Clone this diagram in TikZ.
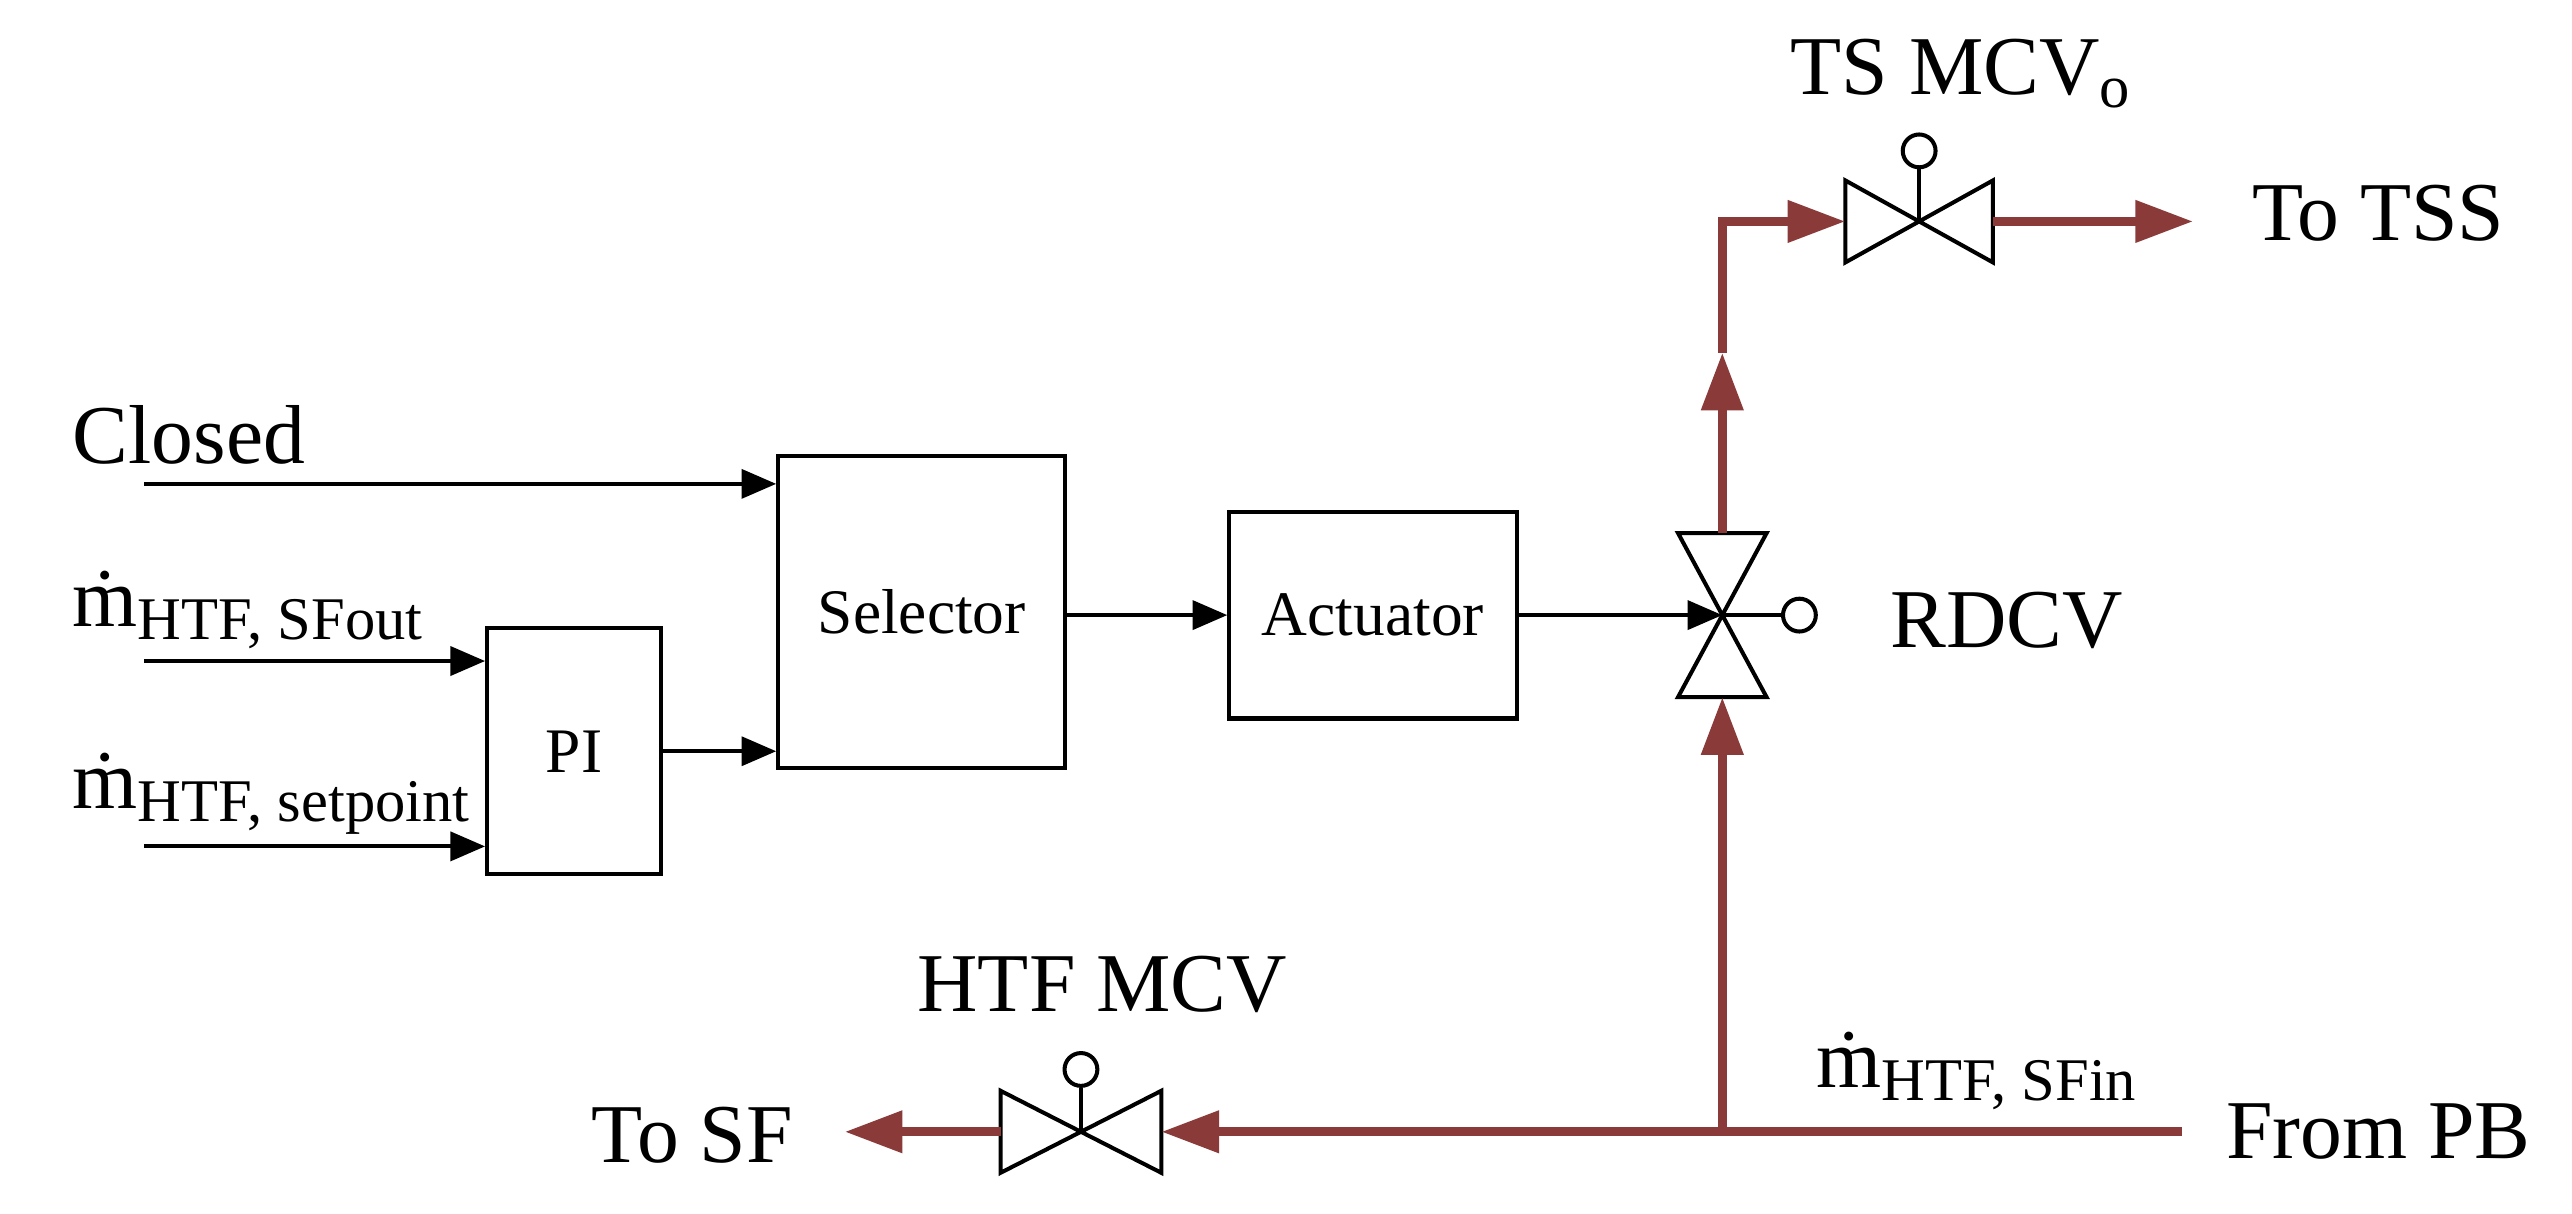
\documentclass[tikz,border=0pt]{standalone}
\usepackage{fontspec}
\setmainfont{Liberation Serif}
\usetikzlibrary{arrows.meta}
\definecolor{pipe}{HTML}{8B3A3A}
\newcommand{\msub}[1]{\raisebox{-0.35ex}{\fontsize{10.5}{12}\selectfont #1}}
\begin{document}
\begin{tikzpicture}[x=0.01cm,y=-0.01cm,
  sig/.style={line width=0.7pt,-{Triangle[length=6pt,width=5pt]}},
  pp/.style={draw=pipe,line width=1.6pt,-{Triangle[length=10pt,width=7pt]}},
  big/.style={font=\fontsize{14.5}{17}\selectfont},
  sm/.style={font=\fontsize{11}{13}\selectfont}]
\useasboundingbox (0,0) rectangle (1568,740);
% blocks
\node[draw,line width=0.7pt,minimum width=1.75cm,minimum height=1.9cm,sm] (sel) at (562,373) {Selector};
\node[draw,line width=0.7pt,minimum width=1.06cm,minimum height=1.5cm,sm] (pi) at (350,458) {PI};
\node[draw,line width=0.7pt,minimum width=1.75cm,minimum height=1.26cm,sm] (act) at (837,375) {Actuator};
% input labels
\node[big,anchor=west] (cl) at (32,265) {Closed};
\node[big,anchor=west] (m1) at (32,372) {ṁ\msub{HTF, SFout}};
\node[big,anchor=west] (m2) at (32,484) {ṁ\msub{HTF, setpoint}};
\coordinate (c1) at (88,295); \coordinate (c2) at (88,403); \coordinate (c3) at (88,516);
\draw[sig] (c1) -- (c1 -| sel.west);
\draw[sig] (c2) -- (c2 -| pi.west);
\draw[sig] (c3) -- (c3 -| pi.west);
\coordinate (p1) at (403,458);
\draw[sig] (p1) -- (p1 -| sel.west);
\draw[sig] (sel.east |- act.west) -- (act.west);
% RDCV valve
\coordinate (rv) at (1050,375);
\draw[line width=0.7pt] (1023,325) -- (1077,325) -- (1023,425) -- (1077,425) -- cycle;
\node[circle,draw,line width=0.7pt,minimum size=0.2cm,inner sep=0] (rvc) at (1097,375) {};
\draw[line width=0.7pt] (rv) -- (rvc);
\draw[sig] (act.east) -- (rv);
\node[big,anchor=west] (rdcv) at (1140,378) {RDCV};
% TS MCV valve
\draw[line width=0.7pt] (1125,110) -- (1125,160) -- (1215,110) -- (1215,160) -- cycle;
\node[circle,draw,line width=0.7pt,minimum size=0.2cm,inner sep=0] (tsc) at (1170,92) {};
\draw[line width=0.7pt] (1170,135) -- (tsc);
\node[big] (tsl) at (1195,45) {TS MCV\msub{o}};
% HTF MCV valve
\draw[line width=0.7pt] (610,665) -- (610,715) -- (708,665) -- (708,715) -- cycle;
\node[circle,draw,line width=0.7pt,minimum size=0.2cm,inner sep=0] (hc) at (659,652) {};
\draw[line width=0.7pt] (659,690) -- (hc);
\node[big] (hl) at (672,600) {HTF MCV};
% pipes
\coordinate (pb) at (1330,690); \coordinate (j) at (1050,690);
\coordinate (vbot) at (1050,425); \coordinate (vtop) at (1050,325);
\coordinate (mid) at (1050,215); \coordinate (corner) at (1050,135);
\coordinate (tin) at (1125,135); \coordinate (tout) at (1215,135); \coordinate (tend) at (1337,135);
\coordinate (hin) at (708,690); \coordinate (hout) at (610,690); \coordinate (hend) at (515,690);
\draw[pp] (pb) -- (hin);
\draw[pp] (j) -- (vbot);
\draw[pp] (vtop) -- (mid);
\draw[pp] (mid) -- (corner) -- (tin);
\draw[pp] (tout) -- (tend);
\draw[pp] (hout) -- (hend);
\node[big] (tss) at (1450,130) {To TSS};
\node[big] (sf) at (422,692) {To SF};
\node[big] (fpb) at (1450,690) {From PB};
\node[big] (m3) at (1205,653) {ṁ\msub{HTF, SFin}};
\end{tikzpicture}
\end{document}
